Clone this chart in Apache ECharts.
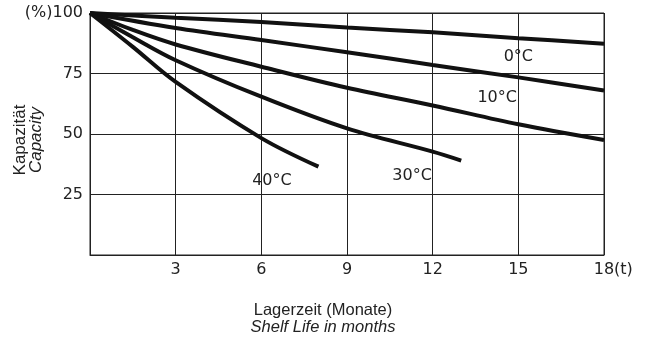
<!DOCTYPE html>
<html>
<head>
<meta charset="utf-8">
<script src="https://cdn.jsdelivr.net/npm/echarts@6/dist/echarts.min.js"></script>
<style>html,body{margin:0;padding:0;background:#fff}#c{width:646px;height:342px}</style>
</head>
<body>
<div id="c"></div>
<script>
const xTicks = [0, 3, 6, 9, 12, 15, 18];
const yTicks = [0, 25, 50, 75, 100];
const seriesNames = ['0°C', '10°C', '20°C', '30°C', '40°C'];
const s0 = [[0,100],[3,98],[6,96.3],[9,94],[12,92],[15,89.6],[18,87.3]];
const s10 = [[0,100],[3,93.8],[6,88.8],[9,83.8],[12,78.5],[15,73.4],[18,68]];
const s20 = [[0,100],[1.5,93],[3,87],[6,77.8],[9,69.1],[12,61.8],[15,54],[18,47.5]];
const s30 = [[0,100],[1.5,90],[3,80.5],[6,65.4],[9,52.3],[12,42.7],[13,39]];
const s40 = [[0,100],[1.5,86],[3,71.5],[6,48.3],[8,36.5]];
const curveLabels = [
  {text: '0°C', coord: [15, 81.8]},
  {text: '10°C', coord: [14.26, 64.9]},
  {text: '30°C', coord: [11.28, 32.6]},
  {text: '40°C', coord: [6.37, 30.6]}
];
const tickFont = 'DejaVu Sans, sans-serif';
const font = 'Liberation Sans, Arial, Helvetica, sans-serif';
const chart = echarts.init(document.getElementById('c'));
const lineSeries = [s0, s10, s20, s30, s40].map((d, i) => ({
  name: seriesNames[i], type: 'line', data: d, smooth: 0.35, symbol: 'none',
  lineStyle: {color: '#111', width: 4}, z: 3
}));
lineSeries.push({
  type: 'scatter', data: [], silent: true,
  markPoint: {
    symbol: 'circle', symbolSize: 0,
    data: curveLabels.map(l => ({coord: l.coord, value: l.text})),
    label: {show: true, position: 'inside', color: '#222', fontSize: 16, fontFamily: tickFont,
      formatter: p => p.value}
  }
});
chart.setOption({
  animation: false,
  grid: {left: 90, right: 42, top: 13, bottom: 87, containLabel: false, outerBoundsMode: 'none',
    show: true, borderColor: '#222', borderWidth: 1},
  xAxis: {
    type: 'value', min: xTicks[0], max: xTicks[xTicks.length-1], interval: 3,
    name: '(t)', nameLocation: 'end', nameGap: 10, nameMoveOverlap: false,
    nameTextStyle: {color: '#222', fontSize: 16, fontFamily: tickFont, align: 'left', verticalAlign: 'top', padding: [7,0,0,0]},
    axisLine: {show: true, lineStyle: {color: '#222', width: 1}},
    axisTick: {show: false},
    axisLabel: {color: '#222', fontSize: 16, fontFamily: tickFont, margin: 7,
      formatter: v => xTicks.includes(v) && v !== 0 ? String(v) : ''},
    splitLine: {show: true, lineStyle: {color: '#222', width: 1}}
  },
  yAxis: {
    type: 'value', min: yTicks[0], max: yTicks[yTicks.length-1], interval: 25,
    axisLine: {show: true, lineStyle: {color: '#222', width: 1}},
    axisTick: {show: false},
    axisLabel: {color: '#222', fontSize: 16, fontFamily: tickFont, margin: 7,
      formatter: v => v === 0 ? '' : (v === 100 ? '(%)100' : String(v))},
    splitLine: {show: true, lineStyle: {color: '#222', width: 1}}
  },
  graphic: [
    {type: 'text', x: 20, y: 140, rotation: Math.PI / 2,
      style: {text: 'Kapazität', fill: '#222', font: '17px ' + font, align: 'center', verticalAlign: 'middle'}},
    {type: 'text', x: 36, y: 140, rotation: Math.PI / 2,
      style: {text: 'Capacity', fill: '#222', font: 'italic 17px ' + font, align: 'center', verticalAlign: 'middle'}},
    {type: 'text', left: 'center', top: 302, style: {text: 'Lagerzeit (Monate)', fill: '#222', font: '16.5px ' + font}},
    {type: 'text', left: 'center', top: 319, style: {text: 'Shelf Life in months', fill: '#222', font: 'italic 16.5px ' + font}}
  ],
  series: lineSeries
});
</script>
</body>
</html>
